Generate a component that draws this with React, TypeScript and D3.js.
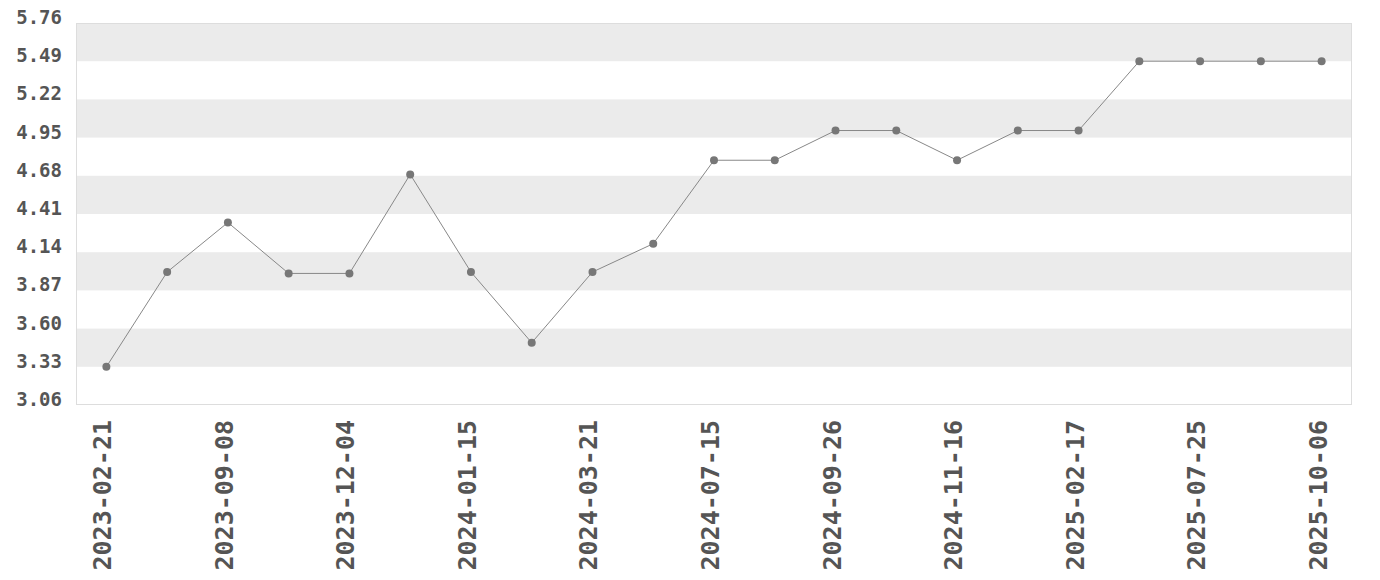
import React from "react";
import * as d3 from "d3";

const dates: string[] = [
  "2023-02-21", "2023-06-12", "2023-09-08", "2023-10-23", "2023-12-04",
  "2023-12-22", "2024-01-15", "2024-02-19", "2024-03-21", "2024-05-13",
  "2024-07-15", "2024-08-19", "2024-09-26", "2024-10-21", "2024-11-16",
  "2024-12-16", "2025-02-17", "2025-05-12", "2025-07-25", "2025-08-29",
  "2025-10-06",
];
const values: number[] = [
  3.33, 4.0, 4.35, 3.99, 3.99, 4.69, 4.0, 3.5, 4.0, 4.2,
  4.79, 4.79, 5.0, 5.0, 4.79, 5.0, 5.0, 5.49, 5.49, 5.49, 5.49,
];
const yTicks: number[] = [3.06, 3.33, 3.6, 3.87, 4.14, 4.41, 4.68, 4.95, 5.22, 5.49, 5.76];

const W = 1380;
const H = 580;
const M = { left: 76, right: 28, top: 23, bottom: 175 };

export default function App() {
  const x = d3
    .scalePoint<string>()
    .domain(dates)
    .range([M.left, W - M.right])
    .padding(0.5);
  const y = d3
    .scaleLinear()
    .domain([yTicks[0], yTicks[yTicks.length - 1]])
    .range([H - M.bottom, M.top]);
  const line = d3
    .line<number>()
    .x((_, i) => x(dates[i]) as number)
    .y((d) => y(d));
  const font = "'DejaVu Sans Mono', monospace";
  const bands = yTicks.slice(0, -1).map((t, i) => ({ lo: t, hi: yTicks[i + 1], i }));
  const nBands = bands.length;
  return (
    <svg
      width={W}
      height={H}
      style={{ position: "absolute", left: 0, top: 0 }}
    >
      <rect x={0} y={0} width={W} height={H} fill="#fff" />
      {bands.map((b) =>
        (nBands - 1 - b.i) % 2 === 0 ? (
          <rect
            key={b.i}
            x={M.left}
            y={y(b.hi)}
            width={W - M.right - M.left}
            height={y(b.lo) - y(b.hi)}
            fill="#ebebeb"
          />
        ) : null
      )}
      <rect
        x={M.left + 0.5}
        y={M.top + 0.5}
        width={W - M.right - M.left - 1}
        height={H - M.bottom - M.top - 1}
        fill="none"
        stroke="#dddddd"
        strokeWidth={1}
      />
      {yTicks.map((t) => (
        <text
          key={t}
          x={62}
          y={y(t) + 1}
          textAnchor="end"
          fontFamily={font}
          fontWeight="bold"
          fontSize={19}
          fill="#555"
        >
          {t.toFixed(2)}
        </text>
      ))}
      {dates.map((d, i) =>
        i % 2 === 0 ? (
          <text
            key={d}
            transform={`translate(${x(d)},420) rotate(-90)`}
            y={5}
            textAnchor="end"
            fontFamily={font}
            fontWeight="bold"
            fontSize={25}
            fill="#555"
          >
            {d}
          </text>
        ) : null
      )}
      <path d={line(values) ?? ""} fill="none" stroke="#888" strokeWidth={1} />
      {values.map((v, i) => (
        <circle key={i} cx={x(dates[i])} cy={y(v)} r={4} fill="#777" />
      ))}
    </svg>
  );
}
